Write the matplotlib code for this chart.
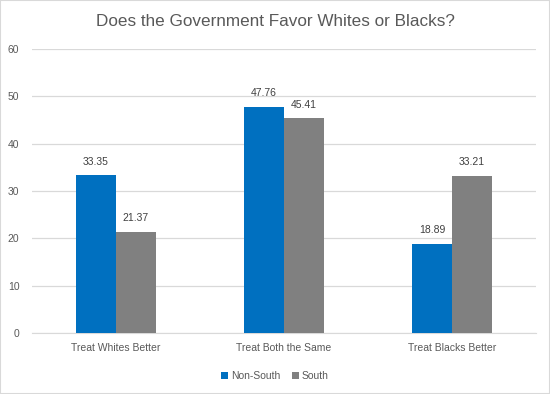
import matplotlib.pyplot as plt
import numpy as np
from matplotlib.patches import Rectangle

categories = ["Treat Whites Better", "Treat Both the Same", "Treat Blacks Better"]
non_south = [33.35, 47.76, 18.89]
south = [21.37, 45.41, 33.21]

plt.rcParams['font.family'] = ['Liberation Sans', 'DejaVu Sans']

fig = plt.figure(figsize=(5.5, 3.94), dpi=100)
ax = fig.add_axes([32 / 550, 61 / 394, 504 / 550, 284 / 394])

x = np.arange(len(categories))
w = 0.237
b1 = ax.bar(x - w / 2, non_south, w, color='#0070C0', label='Non-South', zorder=3)
b2 = ax.bar(x + w / 2, south, w, color='#808080', label='South', zorder=3)

for bars, vals in [(b1, non_south), (b2, south)]:
    for bar, v in zip(bars, vals):
        ax.text(bar.get_x() + bar.get_width() / 2, v + 1.8, f"{v:.2f}",
                ha='center', va='bottom', fontsize=7.5, color='#404040')

ax.set_xlim(-0.5, 2.5)
ax.set_ylim(0, 60)
ax.set_yticks(range(0, 61, 10))
ax.set_xticks(x)
ax.set_xticklabels(categories)
ax.yaxis.grid(True, color='#d9d9d9', linewidth=0.9, zorder=0)
for s in ['top', 'right', 'left']:
    ax.spines[s].set_visible(False)
ax.spines['bottom'].set_color('#d9d9d9')
ax.tick_params(axis='both', length=0, labelsize=7.5, colors='#595959')
ax.tick_params(axis='y', pad=9)
ax.tick_params(axis='x', pad=7)

fig.suptitle("Does the Government Favor Whites or Blacks?", x=0.5, y=0.965,
             fontsize=12.3, color='#595959')

fig.legend(handles=[b1, b2], loc='center', bbox_to_anchor=(0.5, 18 / 394), ncol=2,
           frameon=False, fontsize=7.5, handlelength=0.6, handleheight=0.6,
           handletextpad=0.3, columnspacing=1.2, labelcolor='#595959')

fig.patches.append(Rectangle((0, 0), 1, 1, transform=fig.transFigure,
                             fill=False, edgecolor='#d9d9d9', linewidth=1.5))

fig.savefig('out.png', dpi=100)
